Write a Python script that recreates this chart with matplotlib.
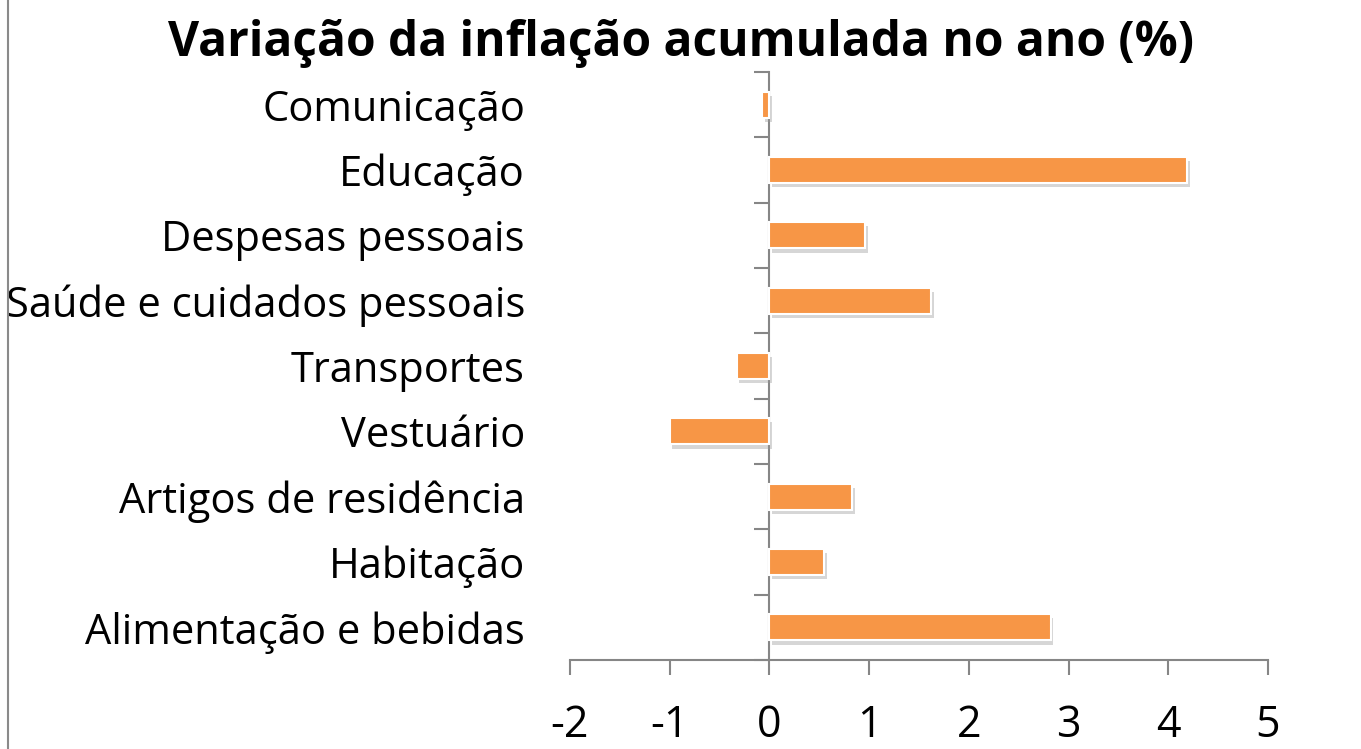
import matplotlib
matplotlib.use("Agg")
import matplotlib.pyplot as plt
from matplotlib import patheffects as pe
from matplotlib.lines import Line2D
import numpy as np

categories = ["Alimentação e bebidas", "Habitação", "Artigos de residência", "Vestuário",
              "Transportes", "Saúde e cuidados pessoais", "Despesas pessoais", "Educação",
              "Comunicação"]
values = [2.82, 0.55, 0.83, -1.0, -0.33, 1.62, 0.96, 4.19, -0.07]
xticks = [-2, -1, 0, 1, 2, 3, 4, 5]
title = "Variação da inflação acumulada no ano (%)"

plt.rcParams['font.family'] = ['Open Sans', 'DejaVu Sans']

fig = plt.figure(figsize=(13.61, 7.49), dpi=100)
ax = fig.add_axes([570/1361, 1-660/749, (1268-570)/1361, (660-72)/749])

y = np.arange(len(categories))
bars = ax.barh(y, values, height=0.4, color="#F79646", edgecolor="white", linewidth=1.5, zorder=3)
for b in bars:
    b.set_path_effects([pe.SimplePatchShadow(offset=(2, -3), shadow_rgbFace="#999999", alpha=0.4), pe.Normal()])

ax.set_xlim(-2, 5)
ax.set_ylim(-0.5, len(categories) - 0.5)
ax.set_xticks(xticks)
ax.set_xticklabels([str(t) for t in xticks], fontsize=31)

spine_col = "#868686"
for s in ["top", "right"]:
    ax.spines[s].set_visible(False)
ax.spines["left"].set_position(("data", 0))
ax.spines["left"].set_color(spine_col)
ax.spines["bottom"].set_color(spine_col)
ax.spines["left"].set_linewidth(1.5)
ax.spines["bottom"].set_linewidth(1.5)

ax.set_yticks(y)
ax.set_yticklabels(categories, fontsize=30)
ax.set_yticks(np.arange(-0.5, len(categories)), minor=True)
ax.tick_params(axis="y", which="major", length=0, pad=176)
ax.tick_params(axis="y", which="minor", length=11, width=1.5, color=spine_col)
ax.tick_params(axis="x", which="major", length=11, width=1.5, color=spine_col, pad=20)

fig.text(0.5, 1 - 43/749, title, ha="center", va="center", fontsize=34.5, fontweight="bold")
fig.add_artist(Line2D([8/1361, 8/1361], [0, 1], color="#8a8a8a", linewidth=1.5, transform=fig.transFigure))

fig.savefig("out.png", dpi=100)
